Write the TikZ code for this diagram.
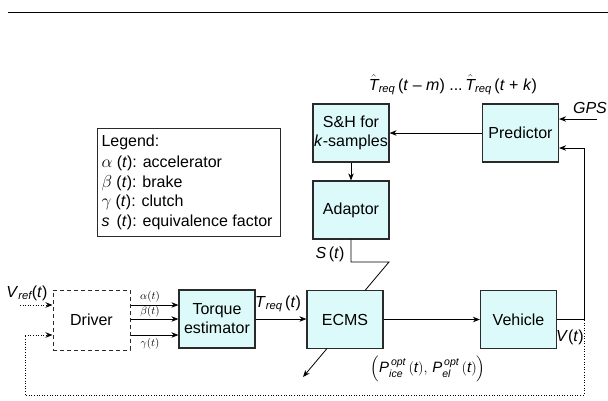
\documentclass[tikz,border=0pt]{standalone}
\usepackage{amsmath}
\usepackage{fontspec}
\setmainfont{Liberation Sans}
\usetikzlibrary{arrows.meta}
\definecolor{boxfill}{HTML}{DDFAFA}
\definecolor{edge}{HTML}{2A2A2A}
\begin{document}
\begin{tikzpicture}[x=1pt,y=-1pt,
  font=\fontsize{16}{19}\selectfont,
  blk/.style={draw=edge, line width=1.2pt, fill=boxfill, minimum width=76pt,
    minimum height=58pt, inner sep=0pt, align=center},
  arr/.style={-{Stealth[length=7pt,width=5.5pt]}, line width=0.8pt},
  ln/.style={line width=0.8pt},
  fbdot/.style={line width=0.9pt, dash pattern=on 1pt off 1.6pt},
  small/.style={font=\fontsize{11}{13}\selectfont, inner sep=0pt}]
\useasboundingbox (0,0) rectangle (608,400);
\draw[line width=1pt] (8,12.5) -- (608,12.5);

% blocks
\node[blk] (sh) at (351,133) {S\&H for\\\textit{k}-samples};
\node[blk] (adapt) at (351,210) {Adaptor};
\node[blk] (pred) at (520.5,133) {Predictor};
\node[blk] (torque) at (217,319) {Torque\\estimator};
\node[blk] (ecms) at (345,319.5) {ECMS};
\node[blk] (veh) at (518.5,319.5) {Vehicle};
\node[draw=edge, line width=1pt, dash pattern=on 4pt off 3pt, minimum width=77pt,
  minimum height=60pt, inner sep=0pt] (driver) at (91.5,320) {Driver};

% legend
\node[draw=edge, line width=1pt, minimum width=183pt, minimum height=108pt,
  align=left, inner sep=0pt] (legend) at (188.5,182)
  {\begin{minipage}{174pt}\fontsize{16}{19.5}\selectfont
   Legend:\\[2pt]
   $\alpha$ (\textit{t}): accelerator\\
   $\beta$ (\textit{t}): brake\\
   $\gamma$ (\textit{t}): clutch\\
   \textit{s}\, (\textit{t}): equivalence factor\end{minipage}};

% labels
\node (that) at (453,85) {$\hat{\textit{T}}_{\textit{req}}$\,(\textit{t} -- \textit{m}) ...\,$\hat{\textit{T}}_{\textit{req}}$\,(\textit{t} + \textit{k})};
\node[inner sep=0pt] (gpsl) at (590,108) {\textit{GPS}};
\node[inner sep=0pt] (sl) at (330,254) {\textit{S}\,(\textit{t})};
\node[inner sep=0pt] (treq) at (278,304) {\textit{T}$_{\textit{req}}$\,(\textit{t})};
\node[inner sep=0pt] (vref) at (27,293) {\textit{V}$_{\textit{ref}}$(\textit{t})};
\node[inner sep=0pt] (vt) at (570,337) {\textit{V}(\textit{t})};
\node[small] (al) at (150,297) {$\alpha(t)$};
\node[small] (bl) at (150,312) {$\beta(t)$};
\node[small] (gl) at (150,344) {$\gamma(t)$};
\node[inner sep=0pt, font=\fontsize{15}{18}\selectfont] (pl) at (428,369) {$\Bigl(\textit{P}^{\,\textit{opt}}_{\textit{ice}}\,(\textit{t}),\, \textit{P}^{\,\textit{opt}}_{\textit{el}}\,(\textit{t})\Bigr)$};

% coordinates
\coordinate (gps) at (597,119);
\coordinate (fb) at (584,148);
\coordinate (ya) at (0,305);
\coordinate (yb) at (0,319);
\coordinate (yc) at (0,335);
\coordinate (vrs) at (20,305);
\coordinate (d1) at (584,320);
\coordinate (d2) at (584,395);
\coordinate (d3) at (25,395);
\coordinate (d4) at (25,335);
\coordinate (a1) at (351,262);
\coordinate (a2) at (389,262);
\coordinate (a3) at (365,290.5);
\coordinate (eo) at (327,348.5);
\coordinate (ee) at (303,377);

% connectors
\draw[arr] (pred.west) -- (sh.east);
\draw[arr] (gps) -- (pred.east |- gps);
\draw[arr] (sh) -- (adapt);
\draw[ln] (adapt.south) -- (a1) -- (a2) -- (a3);
\draw[arr] (driver.east |- ya) -- (torque.west |- ya);
\draw[arr] (driver.east |- yb) -- (torque.west |- yb);
\draw[arr] (driver.east |- yc) -- (torque.west |- yc);
\draw[arr] (torque.east) -- (ecms.west |- torque.east);
\draw[arr] (ecms.east) -- (veh.west);
\draw[arr] (veh.east) -| (fb) -- (pred.east |- fb);
\draw[arr] (eo) -- (ee);
\draw[fbdot, -{Stealth[length=7pt,width=5.5pt]}] (vrs) -- (driver.west |- vrs);
\draw[fbdot, -{Stealth[length=7pt,width=5.5pt]}] (d1) -- (d2) -- (d3) -- (d4) -- (driver.west |- d4);
\end{tikzpicture}
\end{document}
